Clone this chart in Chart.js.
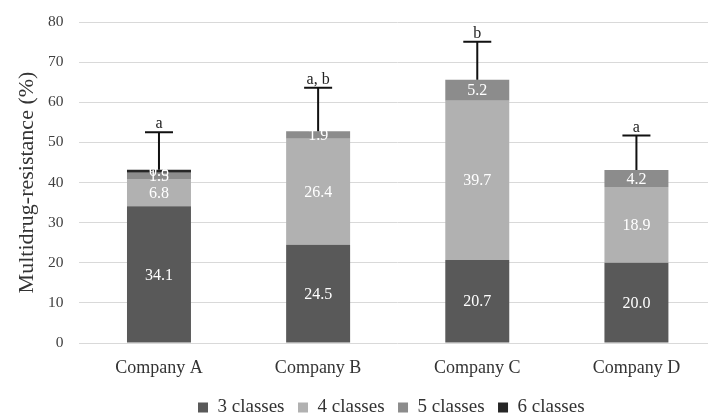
<!DOCTYPE html>
<html>
<head>
<meta charset="utf-8">
<script src="https://cdn.jsdelivr.net/npm/chart.js"></script>
<style>
    html, body { margin: 0; padding: 0; background: #fff; overflow: hidden; }
    #wrap { position: relative; width: 786px; height: 427px; }
</style>
</head>
<body>
<div id="wrap"><canvas id="mdrChart"></canvas></div>
<script>
    // chart data
    const companies = ['Company A', 'Company B', 'Company C', 'Company D'];
    const classes3 = [34.1, 24.5, 20.7, 20.0];
    const classes4 = [6.8, 26.4, 39.7, 18.9];
    const classes5 = [1.5, 1.9, 5.2, 4.2];
    const classes6 = [0.8, 0, 0, 0];
    const errorUp = [9.3, 10.8, 9.5, 8.6];
    const sigLetters = ['a', 'a, b', 'b', 'a'];
    const yTicks = [0, 10, 20, 30, 40, 50, 60, 70, 80];

    const SERIF = '"Liberation Serif", "Times New Roman", serif';

    // white value labels in the middle of each segment
    const segmentLabels = {
        id: 'segmentLabels',
        afterDatasetsDraw(chart) {
            const ctx = chart.ctx;
            ctx.save();
            ctx.fillStyle = '#ffffff';
            ctx.font = '16px ' + SERIF;
            ctx.textAlign = 'center';
            ctx.textBaseline = 'middle';
            chart.data.datasets.forEach((ds, i) => {
                const meta = chart.getDatasetMeta(i);
                meta.data.forEach((bar, j) => {
                    const v = ds.data[j];
                    if (!v) return;
                    ctx.fillText(v.toFixed(1), bar.x, (bar.y + bar.base) / 2 + 1);
                });
            });
            ctx.restore();
        }
    };

    // error bars (upper only) plus significance letters
    const errorBars = {
        id: 'errorBars',
        afterDatasetsDraw(chart) {
            const ctx = chart.ctx;
            const xs = chart.scales.x;
            const ys = chart.scales.y;
            ctx.save();
            ctx.strokeStyle = '#111111';
            ctx.lineWidth = 2;
            companies.forEach((c, j) => {
                const total = classes3[j] + classes4[j] + classes5[j] + classes6[j];
                const x = xs.getPixelForValue(j);
                const y0 = ys.getPixelForValue(total);
                const y1 = ys.getPixelForValue(total + errorUp[j]);
                ctx.beginPath();
                ctx.moveTo(x, y0);
                ctx.lineTo(x, y1);
                ctx.moveTo(x - 14, y1);
                ctx.lineTo(x + 14, y1);
                ctx.stroke();
                ctx.fillStyle = '#222222';
                ctx.font = '16px ' + SERIF;
                ctx.textAlign = 'center';
                ctx.textBaseline = 'alphabetic';
                ctx.fillText(sigLetters[j], x, y1 - 4);
            });
            ctx.restore();
        }
    };

    // nudge the legend so it sits where the original one is
    const legendShift = {
        id: 'legendShift',
        afterLayout(chart) {
            const lg = chart.legend;
            if (!lg || !lg.lineWidths) return;
            const pad = lg.options.labels.padding;
            const start = (lg.left + pad + lg.right - lg.lineWidths[0]) / 2;
            const dx = 198 - start;
            lg.left += dx;
            lg.right += dx;
        }
    };

    const ctx = document.getElementById('mdrChart').getContext('2d');
    new Chart(ctx, {
        type: 'bar',
        data: {
            labels: companies,
            datasets: [
                { label: '3 classes', data: classes3, backgroundColor: '#595959' },
                { label: '4 classes', data: classes4, backgroundColor: '#b1b1b1' },
                { label: '5 classes', data: classes5, backgroundColor: '#8c8c8c' },
                { label: '6 classes', data: classes6, backgroundColor: '#262626' }
            ]
        },
        options: {
            responsive: true,
            maintainAspectRatio: false,
            animation: false,
            datasets: {
                bar: { categoryPercentage: 1.0, barPercentage: 0.402, borderWidth: 0 }
            },
            layout: {
                padding: { left: 14.3, right: 70, top: 22, bottom: 0 }
            },
            scales: {
                x: {
                    stacked: true,
                    grid: { display: false },
                    border: { display: false },
                    afterFit: (axis) => { axis.height = 41.5; },
                    ticks: {
                        color: '#333333',
                        padding: 1.5,
                        font: { family: SERIF, size: 18, lineHeight: 1.73 }
                    }
                },
                y: {
                    stacked: true,
                    min: 0,
                    max: 80,
                    afterBuildTicks: (axis) => {
                        axis.ticks = yTicks.map(v => ({ value: v }));
                    },
                    afterFit: (axis) => {
                        axis.width = 65.1;
                        axis.paddingTop = 0;
                        axis.paddingBottom = 0;
                    },
                    grid: { color: '#d9d9d9', drawTicks: false },
                    border: { display: false },
                    ticks: {
                        color: '#404040',
                        padding: 16,
                        font: { family: SERIF, size: 15.5 }
                    },
                    title: {
                        display: true,
                        text: 'Multidrug-resistance (%)',
                        color: '#333333',
                        padding: 0,
                        font: { family: SERIF, size: 22 }
                    }
                }
            },
            plugins: {
                legend: {
                    position: 'bottom',
                    labels: {
                        color: '#333333',
                        boxWidth: 10,
                        boxHeight: 10,
                        padding: 13.5,
                        font: { family: SERIF, size: 19 }
                    }
                },
                tooltip: { enabled: false }
            }
        },
        plugins: [segmentLabels, errorBars, legendShift]
    });
</script>
</body>
</html>
